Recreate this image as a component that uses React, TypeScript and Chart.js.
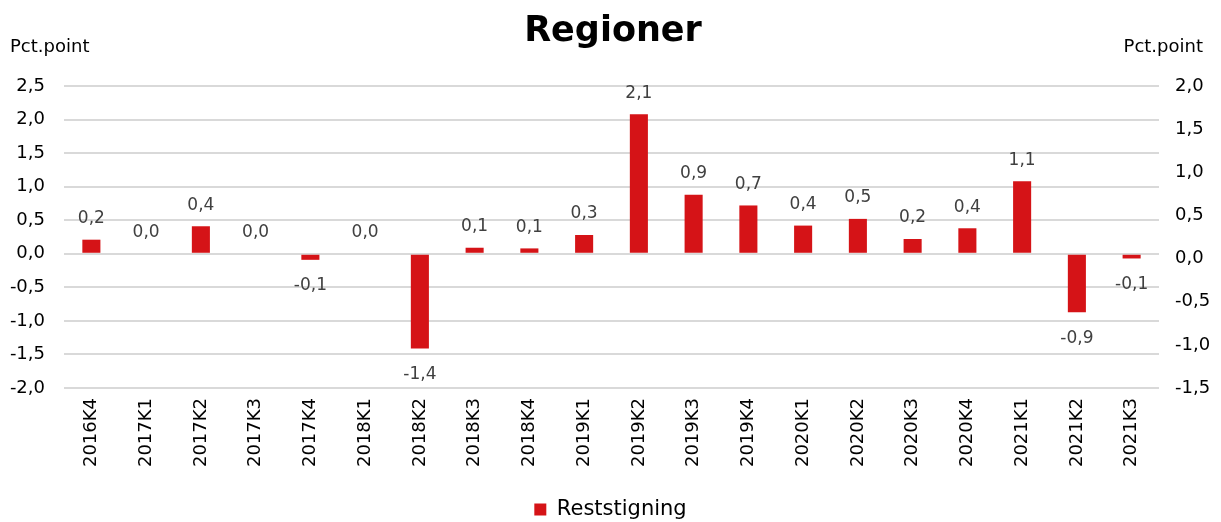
import React, { useEffect, useRef } from "react";
import { Chart, registerables } from "chart.js";

Chart.register(...registerables);

const categories = [
  "2016K4", "2017K1", "2017K2", "2017K3", "2017K4", "2018K1", "2018K2", "2018K3", "2018K4", "2019K1",
  "2019K2", "2019K3", "2019K4", "2020K1", "2020K2", "2020K3", "2020K4", "2021K1", "2021K2", "2021K3",
];
const reststigning = [
  0.21, 0.0, 0.41, 0.0, -0.09, 0.0, -1.41, 0.09, 0.08, 0.28,
  2.08, 0.88, 0.72, 0.42, 0.52, 0.22, 0.38, 1.08, -0.87, -0.07,
];
const seriesName = "Reststigning";
const titleText = "Regioner";
const axisTitle = "Pct.point";
const leftTicks = { min: -2.0, max: 2.5, step: 0.5 };
const rightTicks = { min: -1.5, max: 2.0, step: 0.5 };

const FONT = "'DejaVu Sans', Verdana, sans-serif";
const RED = "#D51317";
const fmt = (v: number) => v.toFixed(1).replace(".", ",").replace(/^-0,0$/, "0,0");

const textPlugin = {
  id: "texts",
  afterDraw(chart: any) {
    const ctx = chart.ctx;
    ctx.save();
    ctx.fillStyle = "#000";
    ctx.textBaseline = "middle";
    ctx.font = `bold 35px ${FONT}`;
    ctx.textAlign = "center";
    ctx.fillText(titleText, 613, 32);
    ctx.font = `18px ${FONT}`;
    ctx.textAlign = "left";
    ctx.fillText(axisTitle, 10, 47);
    ctx.textAlign = "right";
    ctx.fillText(axisTitle, 1203, 47);
    ctx.restore();
  },
  afterDatasetsDraw(chart: any) {
    const ctx = chart.ctx;
    const meta = chart.getDatasetMeta(0);
    const data = chart.data.datasets[0].data as number[];
    ctx.save();
    ctx.font = `17px ${FONT}`;
    ctx.fillStyle = "#404040";
    ctx.textAlign = "center";
    ctx.textBaseline = "middle";
    meta.data.forEach((bar: any, i: number) => {
      const v = data[i];
      const y = v < 0 ? bar.y + 26 : bar.y - 21;
      ctx.fillText(fmt(v), bar.x, y);
    });
    ctx.restore();
  },
};

export default function App() {
  const ref = useRef<HTMLCanvasElement>(null);
  useEffect(() => {
    document.body.style.margin = "0";
    const chart = new Chart(ref.current!, {
      type: "bar",
      data: {
        labels: categories,
        datasets: [
          {
            label: seriesName,
            data: reststigning,
            backgroundColor: RED,
            borderWidth: 0,
            barPercentage: 0.33,
            categoryPercentage: 1,
            yAxisID: "y",
          },
        ],
      },
      plugins: [textPlugin],
      options: {
        animation: false,
        responsive: false,
        layout: { padding: { top: 86, bottom: -8, left: 0, right: 0 } },
        plugins: {
          title: { display: false },
          tooltip: { enabled: false },
          legend: {
            display: true,
            position: "bottom",
            labels: {
              font: { family: FONT, size: 21 },
              color: "#000",
              boxWidth: 12,
              boxHeight: 12,
              padding: 4,
            },
          },
        },
        scales: {
          x: {
            grid: { display: false, drawTicks: false },
            border: { display: false },
            ticks: {
              autoSkip: false,
              minRotation: 90,
              maxRotation: 90,
              padding: 10,
              color: "#000",
              font: { family: FONT, size: 18 },
            },
            afterFit(scale: any) {
              scale.height = 107;
            },
          },
          y: {
            position: "left",
            min: leftTicks.min,
            max: leftTicks.max,
            grid: { color: "#d9d9d9", lineWidth: 2, drawTicks: false },
            border: { display: false },
            ticks: {
              stepSize: leftTicks.step,
              padding: 19,
              color: "#000",
              font: { family: FONT, size: 18 },
              callback: (v: any) => fmt(Number(v)),
            },
            afterFit(scale: any) {
              scale.width = 64;
            },
          },
          y2: {
            position: "right",
            min: rightTicks.min,
            max: rightTicks.max,
            grid: { display: false, drawTicks: false },
            border: { display: false },
            ticks: {
              stepSize: rightTicks.step,
              padding: 16,
              color: "#000",
              font: { family: FONT, size: 18 },
              callback: (v: any) => fmt(Number(v)),
            },
            afterFit(scale: any) {
              scale.width = 62;
            },
          },
        },
      },
    });
    return () => chart.destroy();
  }, []);
  return <canvas ref={ref} width={1221} height={522} style={{ display: "block" }} />;
}
